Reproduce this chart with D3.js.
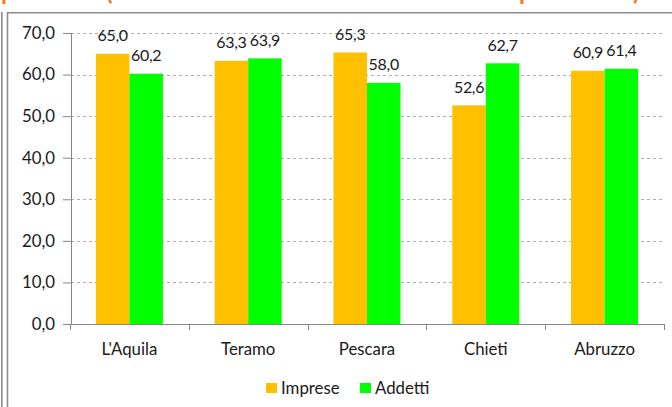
<!DOCTYPE html>
<html>
<head>
<meta charset="utf-8">
<script src="https://cdn.jsdelivr.net/npm/d3@7"></script>
<style>
  html, body { margin: 0; padding: 0; background: #fff; }
  svg { display: block; }
  text { font-family: Lato, "Open Sans", sans-serif; }
</style>
</head>
<body>
<svg id="chart" width="672" height="407"></svg>
<script>
const categories = ["L'Aquila", "Teramo", "Pescara", "Chieti", "Abruzzo"];
const imprese = [65.0, 63.3, 65.3, 52.6, 60.9];
const addetti = [60.2, 63.9, 58.0, 62.7, 61.4];
const seriesNames = ["Imprese", "Addetti"];
const seriesColors = ["#FFC000", "#00FF00"];
const yTicks = [0, 10, 20, 30, 40, 50, 60, 70];
// cropped title fragments (only descenders visible at the top edge)
const titleBits = [{t: "p", x: 1}, {t: "(", x: 106}, {t: "p", x: 519}, {t: ")", x: 633}];

const svg = d3.select("#chart");
const locale = d3.formatLocale({decimal: ",", thousands: ".", grouping: [3], currency: ["", "€"]});
const fmt = locale.format(".1f");

const plotLeft = 71, plotRight = 664, plotTop = 33, plotBottom = 324;
const x = d3.scaleBand().domain(categories).range([70, plotRight]).padding(0);
const y = d3.scaleLinear().domain([0, 70]).range([plotBottom, plotTop]);
const axisColor = "#868686";
const fs = 16.8;
const textColor = "#1a1a1a";

// outer frame
svg.append("line").attr("x1", 1.8).attr("x2", 1.8).attr("y1", 12).attr("y2", 407)
  .attr("stroke", "#8c8c8c").attr("stroke-width", 1.6);
svg.append("line").attr("x1", 7.5).attr("x2", 7.5).attr("y1", 12).attr("y2", 407)
  .attr("stroke", "#8c8c8c").attr("stroke-width", 1.6);
svg.append("line").attr("x1", 7).attr("x2", 672).attr("y1", 12.8).attr("y2", 12.8)
  .attr("stroke", "#8c8c8c").attr("stroke-width", 1.6);

// title fragments
svg.selectAll("text.title").data(titleBits).enter().append("text")
  .attr("class", "title")
  .attr("x", d => d.x).attr("y", 0)
  .attr("fill", "#EE7D22").attr("font-weight", "bold").attr("font-size", 24)
  .text(d => d.t);

// gridlines
svg.append("g").selectAll("line").data(yTicks.filter(d => d > 0)).enter().append("line")
  .attr("x1", plotLeft).attr("x2", plotRight)
  .attr("y1", d => Math.round(y(d)) + 0.5).attr("y2", d => Math.round(y(d)) + 0.5)
  .attr("stroke", "#adadad").attr("stroke-width", 1).attr("stroke-dasharray", "3,3");

// y axis
const yAxis = svg.append("g").attr("transform", `translate(${plotLeft},0)`)
  .call(d3.axisLeft(y).tickValues(yTicks).tickFormat(fmt).tickSize(8).tickPadding(8));
yAxis.select(".domain").attr("stroke", axisColor);
yAxis.selectAll(".tick line").attr("stroke", axisColor);
yAxis.selectAll(".tick text").attr("font-size", fs).attr("fill", textColor)
  .attr("font-family", "Lato, sans-serif");

// bars
const bw = 33.5;
const groups = svg.append("g").selectAll("g").data(categories).enter().append("g")
  .attr("transform", d => `translate(${x(d) + (x.bandwidth() - 2 * bw) / 2},0)`);
[imprese, addetti].forEach((vals, si) => {
  groups.append("rect")
    .attr("x", si * bw)
    .attr("y", (d, i) => y(vals[i]))
    .attr("width", bw)
    .attr("height", (d, i) => plotBottom - y(vals[i]))
    .attr("fill", seriesColors[si]);
  groups.append("text")
    .attr("x", si * bw + bw / 2)
    .attr("y", (d, i) => y(vals[i]) - 12.5)
    .attr("text-anchor", "middle")
    .attr("font-size", 16).attr("letter-spacing", -0.3).attr("fill", textColor)
    .text((d, i) => fmt(vals[i]));
});

// x axis
const xAxisG = svg.append("g").attr("transform", `translate(0,${plotBottom})`);
xAxisG.append("line").attr("x1", 70).attr("x2", plotRight).attr("y1", 0.5).attr("y2", 0.5)
  .attr("stroke", axisColor);
const boundaries = categories.map(c => x(c)).concat([x(categories[categories.length - 1]) + x.bandwidth()]);
xAxisG.selectAll("line.tk").data(boundaries).enter().append("line")
  .attr("class", "tk")
  .attr("x1", d => Math.round(d) + 0.5).attr("x2", d => Math.round(d) + 0.5)
  .attr("y1", 0).attr("y2", 6).attr("stroke", axisColor);
xAxisG.selectAll("text").data(categories).enter().append("text")
  .attr("x", d => x(d) + x.bandwidth() / 2)
  .attr("y", 31)
  .attr("text-anchor", "middle")
  .attr("font-size", fs).attr("fill", textColor)
  .text(d => d);

// legend
const legendItems = [{x: 266, tx: 281}, {x: 360, tx: 375}];
const lg = svg.append("g");
seriesNames.forEach((n, i) => {
  lg.append("rect").attr("x", legendItems[i].x).attr("y", 383)
    .attr("width", 11).attr("height", 10).attr("fill", seriesColors[i]);
  lg.append("text").attr("x", legendItems[i].tx).attr("y", 393.5)
    .attr("font-size", fs).attr("fill", textColor).text(n);
});
</script>
</body>
</html>
